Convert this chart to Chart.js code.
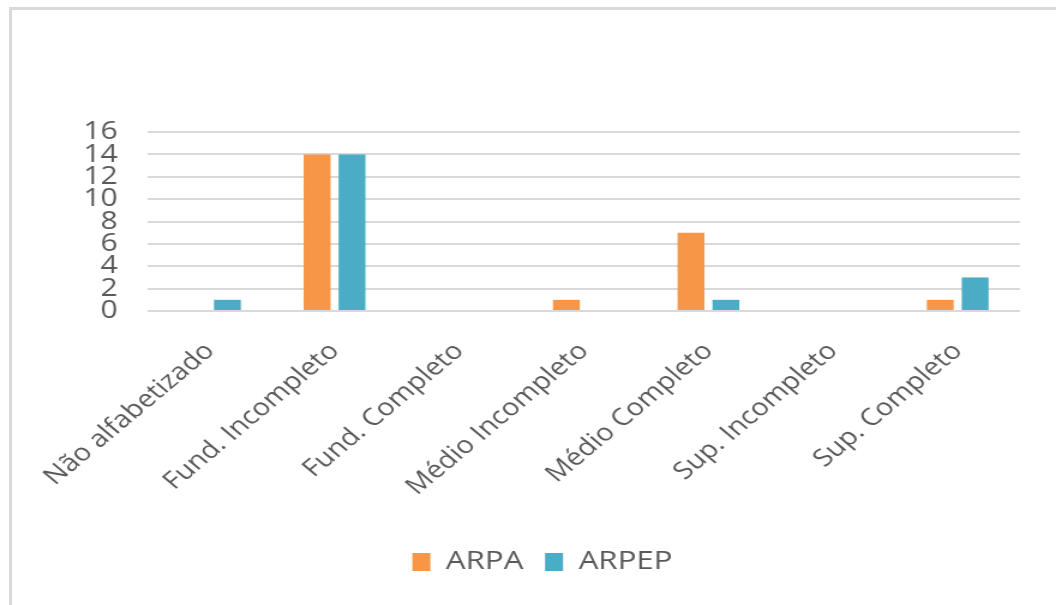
<!DOCTYPE html>
<html lang="pt">
<head>
    <meta charset="UTF-8">
    <title>Escolaridade ARPA / ARPEP</title>
    <script src="https://cdn.jsdelivr.net/npm/chart.js"></script>
    <style>
        body { margin: 0; background: #fff; overflow: hidden; }
        #moldura {
            position: absolute; left: 9px; top: 7px; right: 0; bottom: 0;
            border-left: 3px solid #d9d9d9; border-top: 3px solid #d9d9d9;
        }
        /* o original é um gráfico do Excel esticado na horizontal */
        #wrap {
            position: absolute; left: 0; top: 0; width: 880px; height: 605px;
            transform: scaleX(1.2); transform-origin: 0 0;
        }
    </style>
</head>
<body>
    <div id="moldura"></div>
    <div id="wrap"><canvas id="myChart" width="880" height="605"></canvas></div>
    <script>
        // Dados
        var categorias = ['Não alfabetizado', 'Fund. Incompleto', 'Fund. Completo', 'Médio Incompleto',
                          'Médio Completo', 'Sup. Incompleto', 'Sup. Completo'];
        var arpa  = [0, 14, 0, 1, 7, 0, 1];
        var arpep = [1, 14, 0, 0, 1, 0, 3];
        var ticksY = [0, 2, 4, 6, 8, 10, 12, 14, 16];

        var cinza = '#595959';
        var fonte = "'Open Sans', 'Noto Sans', sans-serif";

        var ctx = document.getElementById('myChart').getContext('2d');
        var myChart = new Chart(ctx, {
            type: 'bar',
            data: {
                labels: categorias,
                datasets: [{
                    label: 'ARPA',
                    data: arpa,
                    backgroundColor: '#f79646'
                }, {
                    label: 'ARPEP',
                    data: arpep,
                    backgroundColor: '#4bacc6'
                }]
            },
            options: {
                responsive: false,
                animation: false,
                categoryPercentage: 0.56,
                barPercentage: 0.77,
                layout: { padding: { left: 54, right: 30, top: 132, bottom: 20 } },
                plugins: {
                    tooltip: { enabled: false },
                    legend: {
                        position: 'bottom',
                        labels: {
                            color: cinza,
                            font: { family: fonte, size: 26 },
                            boxWidth: 15,
                            boxHeight: 18,
                            padding: 18
                        }
                    }
                },
                scales: {
                    x: {
                        afterFit: function (axis) { axis.height = 220; },
                        grid: { display: false },
                        border: { display: false },
                        ticks: {
                            color: cinza,
                            font: { family: fonte, size: 24 },
                            minRotation: 45,
                            maxRotation: 45,
                            autoSkip: false,
                            padding: 18
                        }
                    },
                    y: {
                        min: 0,
                        max: 16,
                        afterBuildTicks: function (axis) {
                            axis.ticks = ticksY.map(function (v) { return { value: v }; });
                        },
                        afterFit: function (axis) { axis.width = 69; },
                        grid: { color: '#d9d9d9', lineWidth: 2, drawTicks: false },
                        border: { display: false },
                        ticks: {
                            color: cinza,
                            font: { family: fonte, size: 25, lineHeight: 1 },
                            autoSkip: false,
                            padding: 25
                        }
                    }
                }
            }
        });
    </script>
</body>
</html>
